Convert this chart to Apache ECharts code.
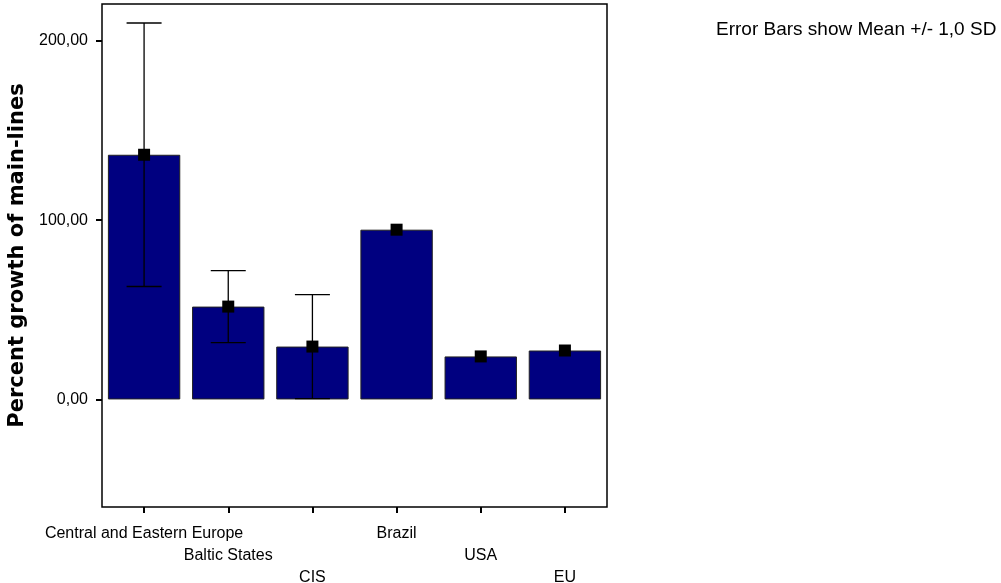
<!DOCTYPE html>
<html><head><meta charset="utf-8">
<script src="https://cdn.jsdelivr.net/npm/echarts@6/dist/echarts.min.js"></script>
<style>html,body{margin:0;padding:0;background:#fff}#c{width:1001px;height:583px}</style>
</head><body><div id="c"></div>
<script>
var categories = ['Central and Eastern Europe','Baltic States','CIS','Brazil','USA','EU'];
var means = [136.5, 51.8, 29.5, 94.7, 24.0, 27.3];
var sds = [73.5, 20.1, 29.0, 0, 0, 0];
var yTicks = [0, 100, 200];

var chart = echarts.init(document.getElementById('c'), null, {renderer:'canvas'});
var font = 'Liberation Sans';
chart.setOption({
  animation:false,
  backgroundColor:'#fff',
  graphic:[{type:'text', left:716, top:20, style:{text:'Error Bars show Mean +/- 1,0 SD', fontFamily:font, fontSize:19, fill:'#000'}}],
  grid:{left:102, top:4, right:394, bottom:76, show:true, borderColor:'#000', borderWidth:1.5, backgroundColor:'#fff', outerBoundsMode:'none', containLabel:false},
  xAxis:{type:'category', data:categories,
    axisLine:{show:false, onZero:false},
    axisTick:{show:true, alignWithLabel:true, length:6, lineStyle:{color:'#000', width:2}},
    axisLabel:{interval:0, margin:16, fontFamily:font, fontSize:16, color:'#000', lineHeight:22,
      formatter:function(v,i){ var r=i%3; return (r===0?'':r===1?'\n':'\n\n')+v; }}
  },
  yAxis:{type:'value', min:-60, max:220.6,
    name:'Percent growth of main-lines', nameLocation:'middle', nameGap:70,
    nameTextStyle:{fontFamily:'DejaVu Sans', fontSize:21, fontWeight:'bold', color:'#000'},
    splitLine:{show:false}, axisLine:{show:false, onZero:false},
    axisTick:{show:true, length:6, customValues:yTicks, lineStyle:{color:'#000', width:2}},
    axisLabel:{customValues:yTicks, margin:14, fontFamily:font, fontSize:16, color:'#000',
      formatter:function(v){return v.toFixed(2).replace('.',',');}}
  },
  series:[
    {type:'bar', data:means, barWidth:'86%', itemStyle:{color:'#000080', borderColor:'#222', borderWidth:1}},
    {type:'custom', z:5,
      data:categories.map(function(c,i){return [i, means[i]-sds[i], means[i]+sds[i]];}),
      renderItem:function(params, api){
        if(api.value(2)-api.value(1) < 0.01) return null;
        var lo = api.coord([api.value(0), api.value(1)]);
        var hi = api.coord([api.value(0), api.value(2)]);
        var hw = 17.5;
        var st = {stroke:'#000', lineWidth:1.3};
        return {type:'group', children:[
          {type:'line', shape:{x1:hi[0],y1:hi[1],x2:lo[0],y2:lo[1]}, style:st},
          {type:'line', shape:{x1:hi[0]-hw,y1:hi[1],x2:hi[0]+hw,y2:hi[1]}, style:st},
          {type:'line', shape:{x1:lo[0]-hw,y1:lo[1],x2:lo[0]+hw,y2:lo[1]}, style:st}
        ]};
      }},
    {type:'scatter', z:6, data:means, symbol:'rect', symbolSize:12, itemStyle:{color:'#000', opacity:1}}
  ]
});
</script></body></html>
